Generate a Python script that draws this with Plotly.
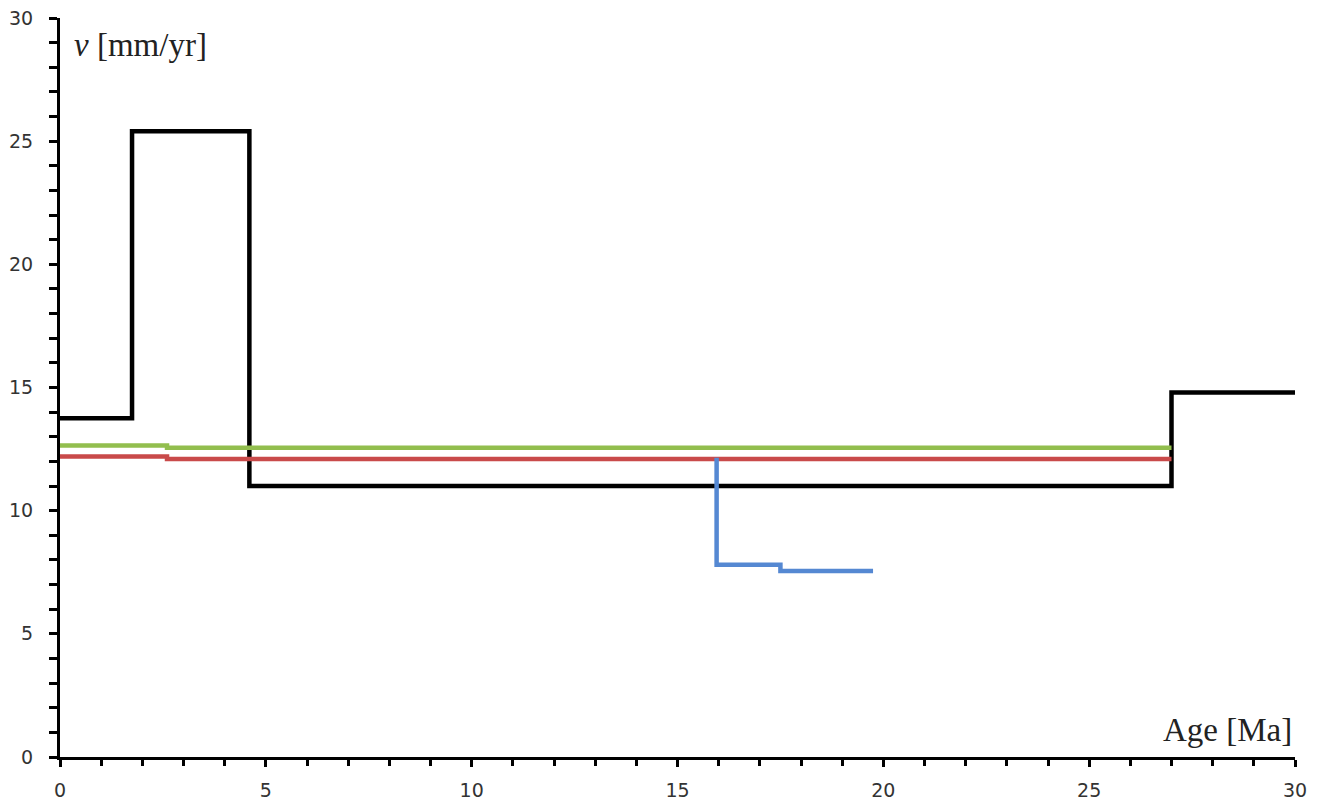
import plotly.graph_objects as go

# Data (age in Ma, velocity in mm/yr), step functions
black_x = [0, 1.75, 4.6, 27.0, 30.0]
black_y = [13.75, 25.4, 11.0, 14.8, 14.8]

green_x = [0, 2.6, 27.0]
green_y = [12.65, 12.55, 12.55]

red_x = [0, 2.6, 27.0]
red_y = [12.2, 12.1, 12.1]

blue_x = [15.95, 15.95, 17.5, 19.75]
blue_y = [12.15, 7.8, 7.55, 7.55]

x_ticks = [0, 5, 10, 15, 20, 25, 30]
y_ticks = [0, 5, 10, 15, 20, 25, 30]

fig = go.Figure()
for xs, ys, col, w in [
    (black_x, black_y, "#000000", 4.5),
    (green_x, green_y, "#92BE4E", 4.5),
    (red_x, red_y, "#C94A4A", 4.5),
    (blue_x, blue_y, "#5588D2", 4.5),
]:
    fig.add_trace(go.Scatter(x=xs, y=ys, mode="lines", line=dict(color=col, width=w, shape="hv"),
                             cliponaxis=False, showlegend=False, hoverinfo="skip"))

tickfont = dict(family="DejaVu Sans, sans-serif", size=19, color="#333333")
fig.update_layout(
    width=1320, height=801,
    margin=dict(l=60, r=25, t=18, b=44),
    plot_bgcolor="white", paper_bgcolor="white",
    xaxis=dict(range=[0, 30], tickvals=x_ticks, showgrid=False, zeroline=False, automargin=False,
               showline=True, linecolor="black", linewidth=3,
               ticks="outside", ticklen=7, tickwidth=3, tickcolor="black",
               minor=dict(dtick=1, ticks="outside", ticklen=6, tickwidth=3, tickcolor="black"),
               ticklabelstandoff=7, tickfont=tickfont),
    yaxis=dict(range=[0, 30], tickvals=y_ticks, showgrid=False, zeroline=False, automargin=False,
               showline=True, linecolor="black", linewidth=3,
               ticks="outside", ticklen=8, tickwidth=3, tickcolor="black",
               minor=dict(dtick=1, ticks="outside", ticklen=8, tickwidth=3, tickcolor="black"),
               ticklabelstandoff=12, tickfont=tickfont),
    annotations=[
        dict(text="<i>ν</i> [mm/yr]", xref="paper", yref="paper", x=0.01, y=0.99,
             xanchor="left", yanchor="top", showarrow=False,
             font=dict(family="Liberation Serif, Times New Roman, serif", size=33, color="#222222")),
        dict(text="Age [Ma]", xref="paper", yref="paper", x=0.999, y=0.01,
             xanchor="right", yanchor="bottom", showarrow=False,
             font=dict(family="Liberation Serif, Times New Roman, serif", size=33, color="#222222")),
    ],
)

fig.write_html("out.html", config={"displayModeBar": False},
               post_script="document.body.style.margin='0';document.body.style.overflow='hidden';")
